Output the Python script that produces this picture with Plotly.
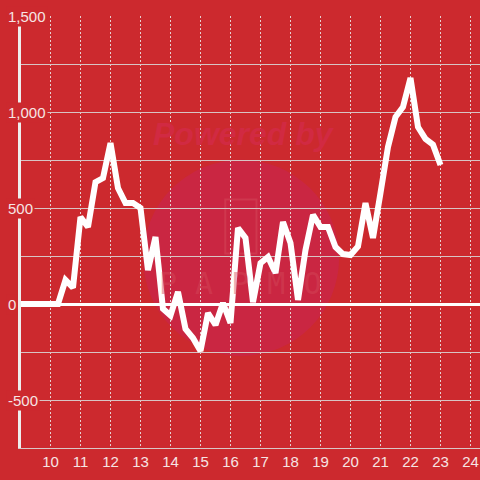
import plotly.graph_objects as go

BG = "#cc292e"
LABEL = "#f6e4e4"

hours = [
    9.0, 9.25, 9.5, 9.75, 10.0, 10.25, 10.5, 10.75,
    11.0, 11.25, 11.5, 11.75, 12.0, 12.25, 12.5, 12.75,
    13.0, 13.25, 13.5, 13.75, 14.0, 14.25, 14.5, 14.75,
    15.0, 15.25, 15.5, 15.75, 16.0, 16.25, 16.5, 16.75,
    17.0, 17.25, 17.5, 17.75, 18.0, 18.25, 18.5, 18.75,
    19.0, 19.25, 19.5, 19.75, 20.0, 20.25, 20.5, 20.75,
    21.0, 21.25, 21.5, 21.75, 22.0, 22.25, 22.5, 22.75,
    23.0,
]
values = [
    0, 0, 0, 0, 0, 0, 125, 85,
    453, 401, 635, 656, 838, 604, 526, 526,
    500, 177, 349, -25, -60, 63, -130, -177,
    -245, -47, -109, 5, -99, 396, 344, 10,
    213, 245, 161, 427, 318, 21, 281, 464,
    401, 401, 297, 260, 255, 300, 526, 344,
    578, 818, 974, 1026, 1177, 922, 860, 830,
    724,
]

y_tick_values = [1500, 1000, 500, 0, -500]
y_tick_text = ["1,500", "1,000", "500", "0", "-500"]
x_tick_values = list(range(10, 25))

fig = go.Figure()
fig.add_trace(
    go.Scatter(
        x=hours,
        y=values,
        mode="lines",
        line={"color": "white", "width": 6},
        hoverinfo="skip",
    )
)

# faint "powered by" watermark behind the data
fig.add_shape(
    type="circle", xref="paper", yref="paper",
    x0=0.266, x1=0.693, y0=0.213, y1=0.667,
    fillcolor="#c9264a", opacity=0.75, line_width=0, layer="below",
)
fig.add_shape(
    type="rect", xref="paper", yref="paper",
    x0=0.445, x1=0.513, y0=0.45, y1=0.575,
    line={"color": "#d4485a", "width": 2}, fillcolor="rgba(0,0,0,0)",
    layer="below", opacity=0.5,
)
fig.add_annotation(
    text="<b><i>Powered by</i></b>", xref="paper", yref="paper",
    x=0.485, y=0.728, xanchor="center", yanchor="middle", showarrow=False,
    font={"size": 32, "color": "#d12a42", "family": "Liberation Sans"},
)
fig.add_annotation(
    text="P A P M O", xref="paper", yref="paper",
    x=0.478, y=0.38, xanchor="center", yanchor="middle", showarrow=False,
    font={"size": 30, "color": "#d4485a", "family": "DejaVu Sans Mono"},
    opacity=0.45,
)

for val, txt in zip(y_tick_values, y_tick_text):
    fig.add_annotation(
        text=txt, xref="paper", yref="y", x=-0.032, y=val,
        xanchor="left", yanchor="middle", showarrow=False,
        bgcolor=BG, borderpad=1,
        font={"size": 15, "color": LABEL, "family": "Liberation Sans"},
    )

fig.update_layout(
    width=480, height=480,
    margin={"l": 21, "r": 0, "t": 16, "b": 32},
    paper_bgcolor=BG, plot_bgcolor=BG,
    showlegend=False,
    font={"family": "Liberation Sans", "size": 15, "color": LABEL},
)
fig.update_xaxes(
    range=[9.017, 24.317],
    tickvals=x_tick_values,
    showgrid=True, gridcolor="#e6d0d0", gridwidth=1, griddash="2px,2px",
    showline=True, linecolor="#d9c6c6", linewidth=1,
    zeroline=False, ticks="", tickfont={"size": 15, "color": LABEL},
)
fig.update_yaxes(
    range=[-750, 1500],
    tick0=-750, dtick=250, showticklabels=False,
    showgrid=True, gridcolor="#d8c4c4", gridwidth=1,
    zeroline=True, zerolinecolor="white", zerolinewidth=3,
    showline=True, linecolor="#eeeeee", linewidth=3,
    ticks="",
)

fig.write_html(
    "out.html",
    config={"displayModeBar": False},
    post_script="document.body.style.margin='0';",
)
